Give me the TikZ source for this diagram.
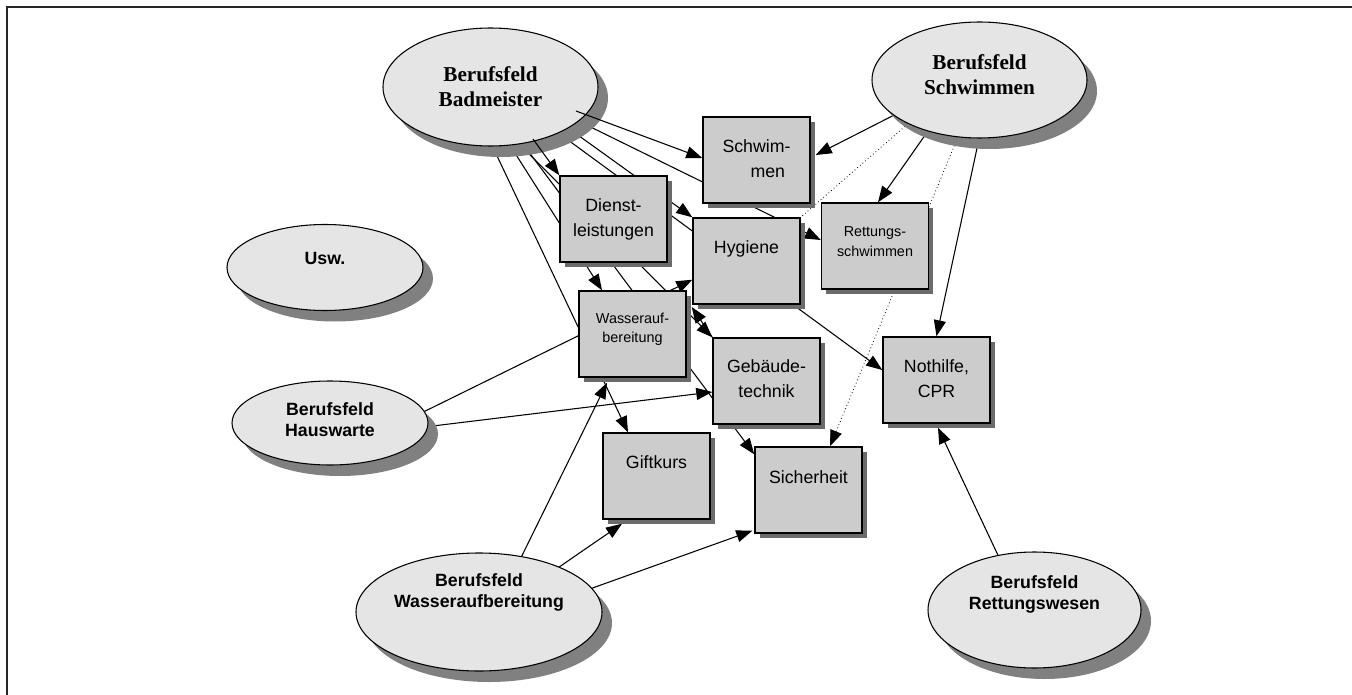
\documentclass[tikz,border=0pt]{standalone}
\usepackage{fontspec}
\setmainfont{Liberation Sans}
\newfontfamily\tnr{Liberation Serif}
\usetikzlibrary{shapes.geometric,shadows,arrows.meta,calc}
\newdimen\upx \upx=0.75pt
\newcommand\ntx[2]{\raisebox{\dimexpr #1\upx-0.3em\relax}[0pt][0pt]{\makebox[0pt]{\begin{tabular}{@{}c@{}}#2\end{tabular}}}}
\newcommand\ntxl[2]{\raisebox{\dimexpr #1\upx-0.3em\relax}[0pt][0pt]{\makebox[0pt]{\begin{tabular}{@{}l@{}}#2\end{tabular}}}}
\pgfdeclarelayer{under}\pgfdeclarelayer{ell}\pgfdeclarelayer{over}
\pgfsetlayers{under,ell,over,main}
\begin{document}
\begin{tikzpicture}[x=0.75pt,y=-0.75pt,
  ellbase/.style={ellipse, draw, line width=0.8pt, fill=black!10, inner sep=0pt,
    drop shadow={shadow xshift=7.5pt,shadow yshift=-8.25pt,fill=black!50,opacity=1}},
  ellbig/.style={ellbase, font=\tnr\bfseries\fontsize{15.9}{18.75}\selectfont},
  ellsm/.style={ellbase, font=\bfseries\fontsize{13.3}{15.75}\selectfont},
  boxn/.style={rectangle, draw, line width=1.1pt, fill=black!20, inner sep=0pt,
    minimum width=80.25pt, minimum height=64.5pt, font=\fontsize{13.3}{18.75}\selectfont,
    drop shadow={shadow xshift=3.5pt,shadow yshift=-3.5pt,fill=black!58,opacity=1}},
  boxs/.style={boxn, font=\fontsize{10.8}{14.6}\selectfont},
  tipT/.tip={Triangle[length=12pt,width=9pt]},
  arr/.style={line width=0.8pt, -tipT},
  dotline/.style={line width=0.6pt, dotted}
]
\useasboundingbox (0,0) rectangle (1352,695);
\draw[line width=1.1pt, black!85] (7,695) -- (7,7) -- (1352,7);

\begin{pgfonlayer}{ell}
\node[ellbig, minimum width=161.25pt, minimum height=88.5pt] (bad) at (490.5,87) {\ntx{-1}{Berufsfeld\\Badmeister}};
\node[ellbig, minimum width=161.25pt, minimum height=87pt] (sch) at (979.5,80) {\ntx{4}{Berufsfeld\\Schwimmen}};
\node[ellsm, minimum width=147pt, minimum height=64.5pt] (usw) at (325,267.5) {\ntx{7.5}{Usw.}};
\node[ellsm, minimum width=147pt, minimum height=63pt] (hau) at (330,423) {\ntx{1.5}{Berufsfeld\\Hauswarte}};
\node[ellsm, minimum width=184.5pt, minimum height=88.5pt] (wae) at (479,612) {\ntx{19.5}{Berufsfeld\\Wasseraufbereitung}};
\node[ellsm, minimum width=159.75pt, minimum height=87pt] (ret) at (1034.5,610) {\ntx{15.5}{Berufsfeld\\Rettungswesen}};
\end{pgfonlayer}

\node[boxn] (swb) at (756.5,160) {\ntxl{0.5}{Schwim-\\\hspace*{28\upx}men}};
\node[boxn] (hyb) at (746.5,261) {\ntx{13}{Hygiene}};
\node[boxs] (rsb) at (875,246) {\ntx{4}{Rettungs-\\schwimmen}};
\node[boxn] (dib) at (613.5,219) {\ntx{0.5}{Dienst-\\leistungen}};
\node[boxs] (wab) at (632.5,334) {\ntx{5.5}{Wasserauf-\\bereitung}};
\node[boxn] (geb) at (766.5,381) {\ntx{1.5}{Gebäude-\\technik}};
\node[boxn] (nob) at (936.5,380) {\ntx{0.5}{Nothilfe,\\CPR}};
\node[boxn] (gkb) at (656.5,476) {\ntx{13}{Giftkurs}};
\node[boxn] (sib) at (808.5,490) {\ntx{12}{Sicherheit}};

\begin{pgfonlayer}{under}
\draw[arr] ($(bad)+(-10.5,33)$) -- ($(gkb.north)+(-28.5,0)$);
\draw[arr] ($(bad)+(3.5,33)$) -- ($(wab.north)+(-30.5,0)$);
\draw[arr] ($(bad)+(4.5,33)$) -- (geb.north west);
\draw[arr] ($(bad)+(14.5,33)$) -- ($(sib.north west)+(0,8)$);
\draw[arr] ($(bad)+(52.5,23)$) -- (hyb.north west);
\draw[arr] ($(bad)+(36.5,23)$) -- ($(nob.west)+(0,-10)$);
\draw[arr] ($(bad)+(69.5,25)$) -- ($(rsb.west)+(0,-6)$);
\draw[arr] ($(sch)+(-73.5,29)$) -- ($(swb.east)+(5,-5)$);
\draw[arr] ($(sch)+(-44.5,41)$) -- ($(rsb.north)+(3,0)$);
\draw[arr] ($(sch)+(2.5,45)$) -- (nob.north);
\draw[dotline] ($(sch)+(-61.5,35)$) -- (hyb.north east);
\draw[dotline,-tipT] ($(sch)+(-14.5,40)$) -- ($(sib.north)+(21.5,0)$);
\draw[arr] ($(wae)+(31,-32)$) -- ($(wab.south)+(-25.5,5)$);
\draw[arr] ($(wae)+(70,-38)$) -- ($(gkb.south)+(-34.5,4)$);
\draw[arr] ($(wae)+(94,-17)$) -- ($(sib.south west)+(-2,-3)$);
\draw[arr] ($(ret)+(-31,-43)$) -- ($(nob.south)+(1.5,4)$);
\draw[arr] ($(hau)+(75,-2)$) -- ($(hyb.south west)+(0,-25)$);
\draw[arr] ($(hau)+(78,6)$) -- ($(geb.west)+(0,11)$);
\draw[arr] (geb.north west) -- ($(wab.east)+(5,-27)$);
\end{pgfonlayer}
\begin{pgfonlayer}{over}
\draw[arr] ($(bad)+(85.5,24)$) -- ($(swb.west)+(0,-2)$);
\draw[arr] ($(bad)+(42.5,52)$) -- (dib.north west);
\end{pgfonlayer}
\end{tikzpicture}
\end{document}
